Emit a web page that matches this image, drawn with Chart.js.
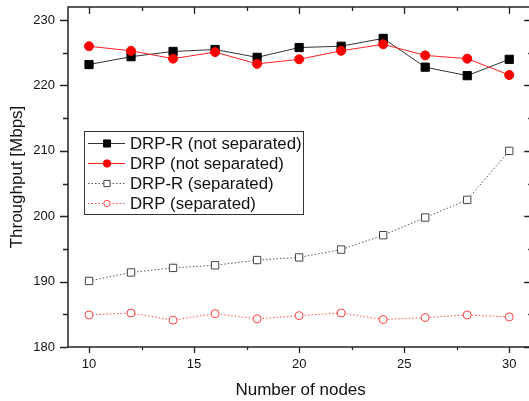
<!DOCTYPE html>
<html>
<head>
<meta charset="utf-8">
<script src="https://cdn.jsdelivr.net/npm/chart.js@4.4.0/dist/chart.umd.min.js"></script>
<style>
html, body { margin: 0; padding: 0; background: #fff; overflow: hidden; }
canvas { display: block; }
</style>
</head>
<body>
<canvas id="chart" width="540" height="401"></canvas>
<script>
let nodes = [10, 12, 14, 16, 18, 20, 22, 24, 26, 28, 30];
let drpRNotSep = [223.2, 224.4, 225.2, 225.5, 224.3, 225.8, 226.0, 227.2, 222.8, 221.5, 224.0];
let drpNotSep = [226.0, 225.3, 224.1, 225.1, 223.3, 224.0, 225.3, 226.3, 224.6, 224.1, 221.6];
let drpRSep = [190.1, 191.4, 192.1, 192.5, 193.3, 193.7, 194.9, 197.1, 199.8, 202.5, 210.0];
let drpSep = [184.9, 185.2, 184.1, 185.1, 184.3, 184.8, 185.2, 184.2, 184.5, 184.9, 184.6];
let xTicks = [10, 15, 20, 25, 30];
let yTicks = [180, 190, 200, 210, 220, 230];

const FONT = "'Liberation Sans', Arial, sans-serif";
let ctx = document.querySelector("#chart");

function pts(values) {
  return nodes.map((n, i) => ({ x: n, y: values[i] }));
}

// frame + ticks on all four sides (major and minor)
const framePlugin = {
  id: "frame",
  afterDraw(chart) {
    const c = chart.ctx;
    const a = chart.chartArea;
    const xs = chart.scales.x;
    const ys = chart.scales.y;
    c.save();
    c.strokeStyle = "#222";
    c.lineWidth = 1.5;
    c.strokeRect(a.left, a.top, a.right - a.left, a.bottom - a.top);
    c.lineWidth = 1.3;
    c.beginPath();
    for (let v = 10; v <= 30; v += 2.5) {
      const major = v % 5 === 0;
      const px = Math.round(xs.getPixelForValue(v)) + 0.5;
      c.moveTo(px, a.bottom);
      c.lineTo(px, a.bottom + (major ? 6 : 3));
      c.moveTo(px, a.top);
      c.lineTo(px, a.top + (major ? 7 : 4));
    }
    for (let v = 180; v <= 230; v += 5) {
      const major = v % 10 === 0;
      const py = Math.round(ys.getPixelForValue(v)) + 0.5;
      c.moveTo(a.left, py);
      c.lineTo(a.left - (major ? 8 : 5), py);
      c.moveTo(a.right, py);
      c.lineTo(a.right - (major ? 9 : 5), py);
    }
    c.stroke();
    c.restore();
  },
};

// legend box inside the plot
const legendPlugin = {
  id: "boxLegend",
  afterDraw(chart) {
    const c = chart.ctx;
    const box = { x: 84.5, y: 131.5, w: 219, h: 83 };
    c.save();
    c.fillStyle = "#fff";
    c.fillRect(box.x, box.y, box.w, box.h);
    c.strokeStyle = "#333";
    c.lineWidth = 1;
    c.strokeRect(box.x, box.y, box.w, box.h);
    c.font = "16.8px " + FONT;
    c.textBaseline = "middle";
    chart.data.datasets.forEach((ds, i) => {
      const y = 143.5 + i * 20;
      c.strokeStyle = ds.borderColor;
      c.lineWidth = ds.borderWidth;
      c.setLineDash(ds.borderDash || []);
      c.beginPath();
      c.moveTo(88, y);
      c.lineTo(125, y);
      c.stroke();
      c.setLineDash([]);
      c.fillStyle = ds.pointBackgroundColor;
      c.strokeStyle = ds.pointBorderColor;
      c.lineWidth = 1;
      Chart.helpers.drawPoint(c, { pointStyle: ds.pointStyle, radius: ds.pointRadius - 0.8, rotation: 0, borderWidth: 1 }, 107, y);
      c.fillStyle = "#111";
      c.fillText(ds.label, 130, y + 1);
    });
    c.restore();
  },
};

let chart = new Chart(ctx, {
  type: "line",
  data: {
    datasets: [
      {
        label: "DRP-R (not separated)",
        data: pts(drpRNotSep),
        borderColor: "#333",
        borderWidth: 1,
        pointStyle: "rect",
        pointRadius: 5.8,
        pointBackgroundColor: "#000",
        pointBorderColor: "#000",
        pointBorderWidth: 1,
        order: 2,
      },
      {
        label: "DRP (not separated)",
        data: pts(drpNotSep),
        borderColor: "#ff2020",
        borderWidth: 1,
        pointStyle: "circle",
        pointRadius: 4.5,
        pointBackgroundColor: "#ff0000",
        pointBorderColor: "#ff0000",
        pointBorderWidth: 1,
        order: 1,
      },
      {
        label: "DRP-R (separated)",
        data: pts(drpRSep),
        borderColor: "#555",
        borderWidth: 1,
        borderDash: [1.5, 2],
        pointStyle: "rect",
        pointRadius: 5.2,
        pointBackgroundColor: "#fff",
        pointBorderColor: "#444",
        pointBorderWidth: 1,
        order: 3,
      },
      {
        label: "DRP (separated)",
        data: pts(drpSep),
        borderColor: "#ff5050",
        borderWidth: 1,
        borderDash: [1.5, 2],
        pointStyle: "circle",
        pointRadius: 4,
        pointBackgroundColor: "#fff",
        pointBorderColor: "#ff4040",
        pointBorderWidth: 1,
        order: 4,
      },
    ],
  },
  options: {
    responsive: false,
    animation: false,
    layout: {
      padding: { left: 0, right: 6, top: 7, bottom: 0 },
    },
    plugins: {
      legend: { display: false },
      tooltip: { enabled: false },
    },
    scales: {
      x: {
        type: "linear",
        min: 9,
        max: 31.14,
        afterBuildTicks: (s) => {
          s.ticks = xTicks.map((v) => ({ value: v }));
        },
        afterFit: (s) => {
          s.height = 54;
          s.paddingLeft = 0;
          s.paddingRight = 0;
        },
        grid: { display: false, drawTicks: false },
        border: { display: false },
        ticks: {
          padding: 10,
          maxRotation: 0,
          color: "#111",
          font: { family: FONT, size: 13 },
        },
        title: {
          display: true,
          text: "Number of nodes",
          color: "#111",
          font: { family: FONT, size: 17 },
          padding: { top: 0, bottom: 0 },
        },
      },
      y: {
        min: 180,
        max: 232,
        afterBuildTicks: (s) => {
          s.ticks = yTicks.map((v) => ({ value: v }));
        },
        afterFit: (s) => {
          s.width = 68;
          s.paddingTop = 0;
          s.paddingBottom = 0;
        },
        grid: { display: false, drawTicks: false },
        border: { display: false },
        ticks: {
          padding: 13,
          color: "#111",
          font: { family: FONT, size: 13 },
        },
        title: {
          display: true,
          text: "Throughput [Mbps]",
          color: "#111",
          font: { family: FONT, size: 17 },
          padding: { top: 7, bottom: 0 },
        },
      },
    },
  },
  plugins: [framePlugin, legendPlugin],
});
</script>
</body>
</html>
